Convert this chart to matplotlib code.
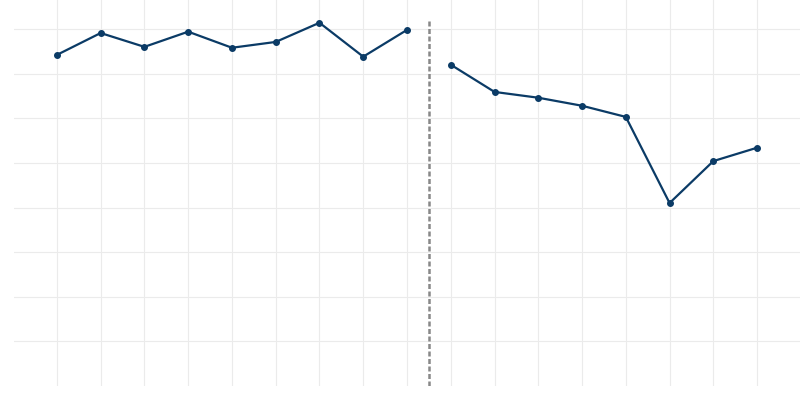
import numpy as np
import matplotlib
matplotlib.use("Agg")
import matplotlib.pyplot as plt

# Data
before_x = [0, 1, 2, 3, 4, 5, 6, 7, 8]
before_y = [7.42, 7.91, 7.60, 7.94, 7.58, 7.71, 8.14, 7.38, 7.98]
after_x = [9, 10, 11, 12, 13, 14, 15, 16]
after_y = [7.20, 6.59, 6.46, 6.28, 6.03, 4.10, 5.04, 5.34]
split_x = 8.5

line_color = '#0b3b66'

fig = plt.figure(figsize=(8, 4), dpi=100)
ax = fig.add_axes([14 / 800, 14 / 400, 786 / 800, 386 / 400])

ax.plot(before_x, before_y, color=line_color, lw=1.6, marker='o', ms=4)
ax.plot(after_x, after_y, color=line_color, lw=1.6, marker='o', ms=4)
ax.plot([split_x, split_x], [0, 8.17], color='#888888', lw=1.8,
        linestyle=(0, (2, 1)))

ax.set_xlim(-0.98, 16.98)
ax.set_ylim(0, 8.65)
ax.set_xticks(np.arange(0, 17))
ax.set_yticks(np.arange(1, 9))
ax.grid(True, color='#ebebeb', lw=0.8)
ax.set_axisbelow(True)
ax.tick_params(length=0, labelbottom=False, labelleft=False)
for s in ax.spines.values():
    s.set_visible(False)

fig.savefig('out.png', dpi=100)
